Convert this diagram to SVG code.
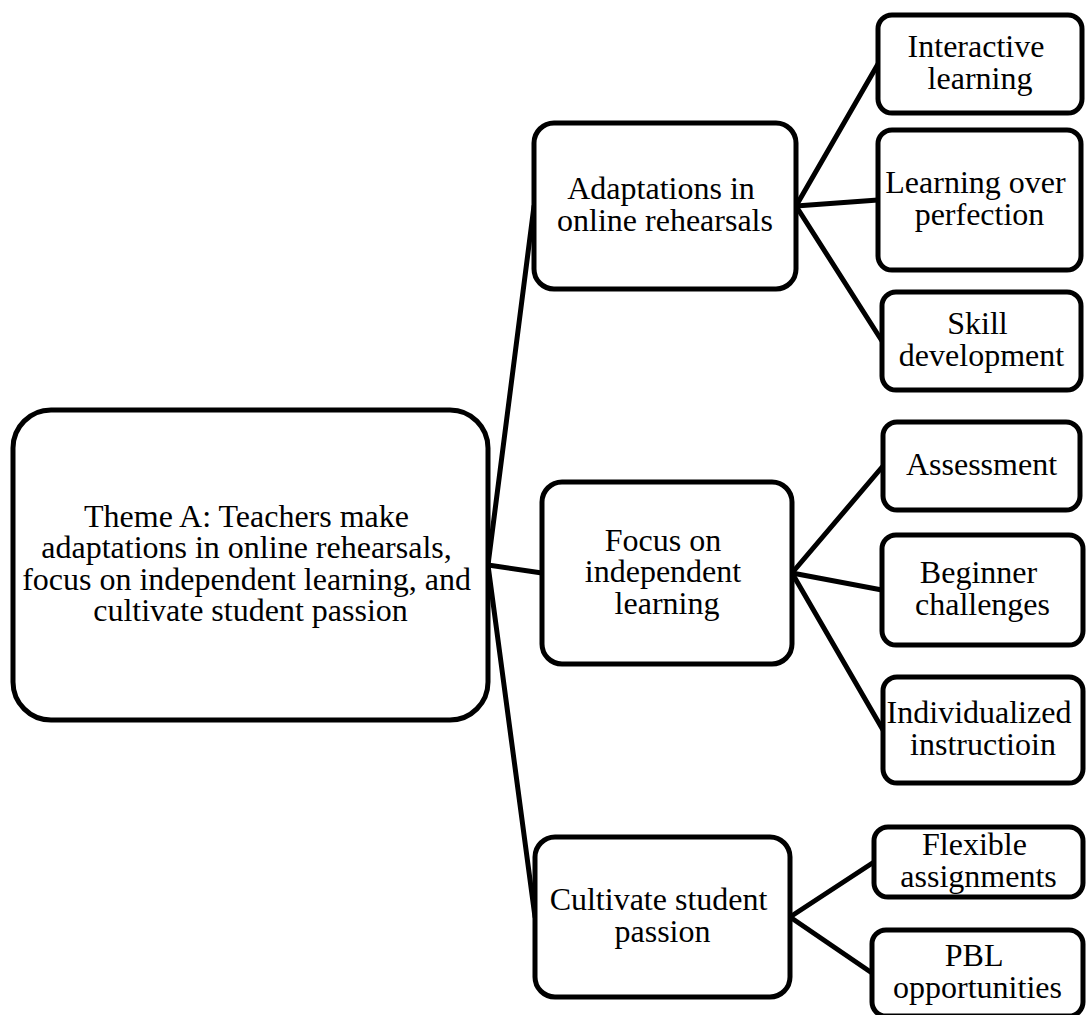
<svg xmlns="http://www.w3.org/2000/svg" width="1086" height="1015" viewBox="0 0 1086 1015">
  <style>
    .box { fill: #ffffff; stroke: #000000; stroke-width: 5; }
    .link { stroke: #000000; stroke-width: 5; fill: none; stroke-linecap: round; }
    .lbl { font-family: "Liberation Serif", "Times New Roman", serif; font-size: 32px; fill: #000000; text-anchor: middle; }
  </style>
  <rect width="1086" height="1015" fill="#ffffff"/>

  <!-- connectors -->
  <g id="connectors">
    <line class="link" x1="488" y1="565" x2="534" y2="206"/>
    <line class="link" x1="488" y1="565" x2="542" y2="573"/>
    <line class="link" x1="488" y1="565" x2="535" y2="917"/>
    <line class="link" x1="796" y1="206" x2="878" y2="64"/>
    <line class="link" x1="796" y1="206" x2="878" y2="200"/>
    <line class="link" x1="796" y1="206" x2="882" y2="341"/>
    <line class="link" x1="792" y1="573" x2="883" y2="466"/>
    <line class="link" x1="792" y1="573" x2="882" y2="590"/>
    <line class="link" x1="792" y1="573" x2="883" y2="730"/>
    <line class="link" x1="790" y1="917" x2="874" y2="862"/>
    <line class="link" x1="790" y1="917" x2="872" y2="973"/>
  </g>

  <!-- root theme -->
  <g id="theme-a">
    <rect class="box" x="13" y="410" width="475" height="310" rx="38"/>
    <text class="lbl">
      <tspan x="250.5" y="526.75">Theme A: Teachers make</tspan>
      <tspan x="250.5" y="558.25">adaptations in online rehearsals,</tspan>
      <tspan x="250.5" y="589.75">focus on independent learning, and</tspan>
      <tspan x="250.5" y="621.25">cultivate student passion</tspan>
    </text>
  </g>

  <!-- second level -->
  <g id="adaptations">
    <rect class="box" x="534" y="123" width="262" height="166" rx="20"/>
    <text class="lbl">
      <tspan x="665" y="199.25">Adaptations in</tspan>
      <tspan x="665" y="230.75">online rehearsals</tspan>
    </text>
  </g>
  <g id="independent-learning">
    <rect class="box" x="542" y="482" width="250" height="182" rx="20"/>
    <text class="lbl">
      <tspan x="667" y="550.5">Focus on</tspan>
      <tspan x="667" y="582">independent</tspan>
      <tspan x="667" y="613.5">learning</tspan>
    </text>
  </g>
  <g id="student-passion">
    <rect class="box" x="535" y="837" width="255" height="160" rx="20"/>
    <text class="lbl">
      <tspan x="662.5" y="910.25">Cultivate student</tspan>
      <tspan x="662.5" y="941.75">passion</tspan>
    </text>
  </g>

  <!-- third level -->
  <g id="interactive-learning">
    <rect class="box" x="878" y="15" width="204" height="98" rx="14"/>
    <text class="lbl">
      <tspan x="980" y="57.25">Interactive</tspan>
      <tspan x="980" y="88.75">learning</tspan>
    </text>
  </g>
  <g id="learning-over-perfection">
    <rect class="box" x="878" y="130" width="203" height="140" rx="14"/>
    <text class="lbl">
      <tspan x="979.5" y="193.25">Learning over</tspan>
      <tspan x="979.5" y="224.75">perfection</tspan>
    </text>
  </g>
  <g id="skill-development">
    <rect class="box" x="882" y="292" width="199" height="98" rx="14"/>
    <text class="lbl">
      <tspan x="981.5" y="334.25">Skill</tspan>
      <tspan x="981.5" y="365.75">development</tspan>
    </text>
  </g>
  <g id="assessment">
    <rect class="box" x="883" y="422" width="197" height="88" rx="14"/>
    <text class="lbl">
      <tspan x="981.5" y="475">Assessment</tspan>
    </text>
  </g>
  <g id="beginner-challenges">
    <rect class="box" x="882" y="535" width="201" height="110" rx="14"/>
    <text class="lbl">
      <tspan x="982.5" y="583.25">Beginner</tspan>
      <tspan x="982.5" y="614.75">challenges</tspan>
    </text>
  </g>
  <g id="individualized-instruction">
    <rect class="box" x="883" y="677" width="200" height="106" rx="14"/>
    <text class="lbl">
      <tspan x="983" y="723.25">Individualized</tspan>
      <tspan x="983" y="754.75">instructioin</tspan>
    </text>
  </g>
  <g id="flexible-assignments">
    <rect class="box" x="874" y="827" width="209" height="70" rx="14"/>
    <text class="lbl">
      <tspan x="978.5" y="855.25">Flexible</tspan>
      <tspan x="978.5" y="886.75">assignments</tspan>
    </text>
  </g>
  <g id="pbl-opportunities">
    <rect class="box" x="872" y="930" width="211" height="86" rx="14"/>
    <text class="lbl">
      <tspan x="977.5" y="966.25">PBL</tspan>
      <tspan x="977.5" y="997.75">opportunities</tspan>
    </text>
  </g>
</svg>
